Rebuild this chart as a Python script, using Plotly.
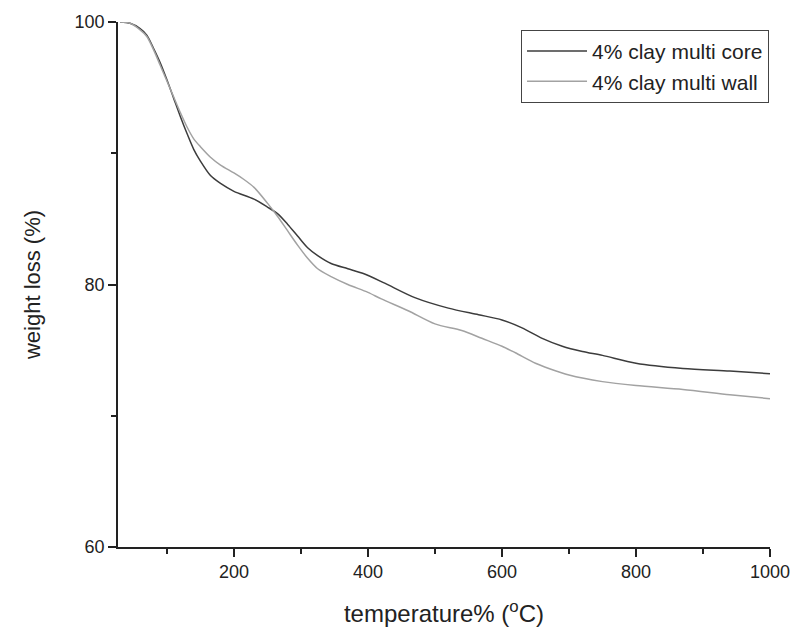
import plotly.graph_objects as go

core_T = [30, 45, 60, 70, 80, 90, 100, 110, 120, 130, 140, 150, 165, 180, 200, 230, 250, 265, 280, 295, 310, 325, 345, 370, 395, 425, 470, 520, 565, 600, 630, 660, 690, 720, 750, 800, 870, 940, 1000]
core_w = [100, 99.9, 99.5, 99.0, 98.0, 96.9, 95.6, 94.2, 92.8, 91.5, 90.3, 89.4, 88.3, 87.7, 87.1, 86.5, 85.9, 85.4, 84.6, 83.7, 82.8, 82.2, 81.6, 81.2, 80.8, 80.1, 79.0, 78.2, 77.7, 77.3, 76.7, 75.9, 75.3, 74.9, 74.6, 74.0, 73.6, 73.4, 73.2]

wall_T = [30, 45, 60, 70, 80, 90, 100, 110, 120, 130, 140, 150, 165, 180, 200, 215, 230, 250, 265, 280, 295, 310, 325, 345, 370, 400, 420, 460, 500, 540, 570, 600, 620, 650, 670, 700, 750, 800, 870, 940, 1000]
wall_w = [100, 99.9, 99.4, 98.9, 97.9, 96.7, 95.5, 94.3, 93.1, 92.0, 91.1, 90.5, 89.7, 89.1, 88.5, 88.0, 87.4, 86.2, 85.2, 84.1, 83.0, 82.0, 81.2, 80.6, 80.0, 79.4, 78.9, 78.0, 77.0, 76.5, 75.9, 75.3, 74.8, 74.0, 73.6, 73.1, 72.6, 72.3, 72.0, 71.6, 71.3]

x_ticks = [200, 400, 600, 800, 1000]
y_ticks = [60, 80, 100]

FONT = "Liberation Sans, Arial, sans-serif"

fig = go.Figure()
fig.add_trace(go.Scatter(x=core_T, y=core_w, mode="lines", name="4% clay multi core",
                         line=dict(color="#3c3c3c", width=1.5, shape="spline", smoothing=0.8)))
fig.add_trace(go.Scatter(x=wall_T, y=wall_w, mode="lines", name="4% clay multi wall",
                         line=dict(color="#a2a2a2", width=1.5, shape="spline", smoothing=0.8)))

fig.update_layout(
    width=802, height=635,
    margin=dict(l=118, r=26, t=20, b=87),
    paper_bgcolor="white", plot_bgcolor="white",
    font=dict(family=FONT, color="#222222", size=18),
    showlegend=True,
    legend=dict(x=0.9985, y=0.985, xanchor="right", yanchor="top",
                bgcolor="rgba(255,255,255,0)", bordercolor="#444444", borderwidth=1,
                font=dict(size=21, color="#222222"), tracegroupgap=0,
                itemwidth=60),
    xaxis=dict(range=[27, 1000], tickvals=x_ticks, showgrid=False, zeroline=False,
               showline=True, linecolor="#222222", linewidth=1.5,
               ticks="outside", ticklen=8, tickwidth=1.5, tickcolor="#222222",
               minor=dict(tickvals=[100, 300, 500, 700, 900], ticks="outside", ticklen=5,
                          tickwidth=1.5, tickcolor="#222222"),
               tickfont=dict(size=18),
               title=dict(text="temperature% (<sup>o</sup>C)", font=dict(size=24), standoff=24)),
    yaxis=dict(range=[60, 100], tickvals=y_ticks, showgrid=False, zeroline=False,
               showline=True, linecolor="#222222", linewidth=1.5,
               ticks="outside", ticklen=8, tickwidth=1.5, tickcolor="#222222",
               minor=dict(tickvals=[70, 90], ticks="outside", ticklen=5,
                          tickwidth=1.5, tickcolor="#222222"),
               tickfont=dict(size=18),
               title=dict(text="weight loss (%)", font=dict(size=22), standoff=28)),
)

fig.write_html("out.html")
